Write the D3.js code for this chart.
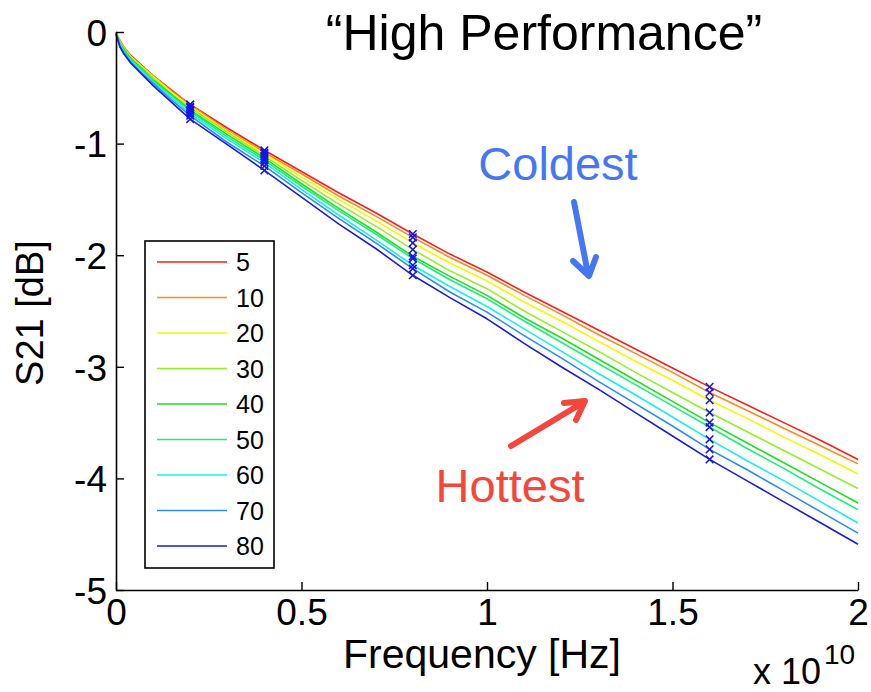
<!DOCTYPE html>
<html>
<head>
<meta charset="utf-8">
<script src="https://cdn.jsdelivr.net/npm/d3@7"></script>
<style>
  html, body { margin: 0; padding: 0; background: #fff; }
  svg { display: block; font-family: "Liberation Sans", Arial, Helvetica, sans-serif; }
</style>
</head>
<body>
<svg id="chart" width="871" height="692"></svg>
<script>
// Frequency samples in GHz (axis reads in units of 1e10 Hz)
const freqGHz = [0, 0.05, 0.1, 0.2, 0.4, 0.7, 1, 1.5, 2, 3, 4, 5, 6, 7, 8, 9, 10, 11, 12, 13, 14, 15, 16, 17, 18, 19, 20];

// Temperatures shown in the legend
const temps = [5, 10, 20, 30, 40, 50, 60, 70, 80];

// Measured S21 [dB] per temperature
const s21_5  = [0, -0.04, -0.07, -0.13, -0.21, -0.30, -0.39, -0.52, -0.65, -0.86, -1.06, -1.25, -1.44, -1.62, -1.81, -1.99, -2.15, -2.33, -2.50, -2.67, -2.84, -3.01, -3.18, -3.34, -3.50, -3.66, -3.83];
const s21_10 = [0, -0.04, -0.08, -0.13, -0.22, -0.31, -0.39, -0.53, -0.65, -0.88, -1.08, -1.27, -1.47, -1.65, -1.84, -2.02, -2.18, -2.36, -2.53, -2.71, -2.88, -3.05, -3.23, -3.39, -3.55, -3.71, -3.87];
const s21_20 = [0, -0.04, -0.08, -0.14, -0.22, -0.31, -0.40, -0.54, -0.67, -0.89, -1.09, -1.30, -1.50, -1.69, -1.89, -2.07, -2.23, -2.42, -2.59, -2.77, -2.95, -3.12, -3.30, -3.46, -3.63, -3.79, -3.96];
const s21_30 = [0, -0.05, -0.09, -0.14, -0.23, -0.32, -0.41, -0.56, -0.68, -0.90, -1.11, -1.33, -1.54, -1.74, -1.95, -2.14, -2.30, -2.50, -2.68, -2.86, -3.05, -3.23, -3.41, -3.58, -3.75, -3.92, -4.09];
const s21_40 = [-0.01, -0.05, -0.10, -0.15, -0.24, -0.33, -0.43, -0.56, -0.70, -0.92, -1.13, -1.36, -1.58, -1.79, -2.01, -2.19, -2.36, -2.56, -2.74, -2.93, -3.12, -3.31, -3.50, -3.68, -3.86, -4.04, -4.22];
const s21_50 = [-0.01, -0.05, -0.10, -0.16, -0.25, -0.34, -0.44, -0.57, -0.71, -0.94, -1.15, -1.38, -1.60, -1.81, -2.03, -2.22, -2.39, -2.59, -2.78, -2.97, -3.16, -3.35, -3.54, -3.73, -3.91, -4.10, -4.28];
const s21_60 = [-0.01, -0.06, -0.11, -0.17, -0.26, -0.35, -0.45, -0.59, -0.73, -0.96, -1.17, -1.41, -1.64, -1.86, -2.09, -2.28, -2.46, -2.66, -2.86, -3.06, -3.25, -3.45, -3.65, -3.84, -4.02, -4.21, -4.40];
const s21_70 = [-0.02, -0.06, -0.12, -0.18, -0.27, -0.37, -0.46, -0.61, -0.75, -0.99, -1.20, -1.44, -1.67, -1.89, -2.12, -2.33, -2.51, -2.72, -2.92, -3.13, -3.33, -3.53, -3.74, -3.92, -4.11, -4.30, -4.49];
const s21_80 = [-0.02, -0.07, -0.13, -0.19, -0.28, -0.38, -0.48, -0.63, -0.78, -1.01, -1.24, -1.48, -1.72, -1.94, -2.18, -2.38, -2.57, -2.79, -3.00, -3.20, -3.41, -3.62, -3.83, -4.02, -4.21, -4.40, -4.59];

const seriesValues = [s21_5, s21_10, s21_20, s21_30, s21_40, s21_50, s21_60, s21_70, s21_80];
const seriesColors = ["#f42121", "#ff8a1c", "#f7f700", "#95ef2a", "#1fe01f", "#1cef7c", "#1aeeee", "#2b8cf6", "#1c1cdc"];

// Frequencies (GHz) flagged with an "x" on every trace
const markerGHz = [2, 4, 8, 16];

// Axis ticks
const xTicks = [0, 5, 10, 15, 20];
const xTickLabels = ["0", "0.5", "1", "1.5", "2"];
const yTicks = [0, -1, -2, -3, -4, -5];

const svg = d3.select("#chart");

const x = d3.scaleLinear().domain([0, 20]).range([116, 858]);
const y = d3.scaleLinear().domain([-5, 0]).range([590, 32]);

// Traces
const line = d3.line()
  .x((d, i) => x(freqGHz[i]))
  .y(d => y(d));

svg.append("g")
  .selectAll("path")
  .data(seriesValues)
  .join("path")
  .attr("d", d => line(d))
  .attr("fill", "none")
  .attr("stroke", (d, i) => seriesColors[i])
  .attr("stroke-width", 1.6)
  .attr("stroke-linejoin", "round");

// "x" markers at the flagged frequencies
const markerPts = [];
seriesValues.forEach(vals => {
  markerGHz.forEach(f => {
    const idx = freqGHz.indexOf(f);
    markerPts.push({ f: f, v: vals[idx] });
  });
});
const ms = 3.8;
svg.append("g")
  .selectAll("path")
  .data(markerPts)
  .join("path")
  .attr("d", d => {
    const cx = x(d.f), cy = y(d.v);
    return `M${cx - ms},${cy - ms}L${cx + ms},${cy + ms}M${cx - ms},${cy + ms}L${cx + ms},${cy - ms}`;
  })
  .attr("stroke", "#1414e6")
  .attr("stroke-width", 1.5)
  .attr("fill", "none");

// Axes (ticks point inward)
const xAxis = d3.axisBottom(x)
  .tickValues(xTicks)
  .tickFormat((d, i) => xTickLabels[i])
  .tickSizeInner(-8)
  .tickSizeOuter(0)
  .tickPadding(9);

const yAxis = d3.axisLeft(y)
  .tickValues(yTicks)
  .tickFormat(d => d === 0 ? "0" : String(d))
  .tickSizeInner(-8)
  .tickSizeOuter(0)
  .tickPadding(9);

const gx = svg.append("g").attr("transform", `translate(0,${y(-5)})`).call(xAxis);
const gy = svg.append("g").attr("transform", `translate(${x(0)},0)`).call(yAxis);

[gx, gy].forEach(g => {
  g.select(".domain").attr("stroke", "#000").attr("stroke-width", 1.6);
  g.selectAll(".tick line").attr("stroke", "#000").attr("stroke-width", 1.4);
  g.selectAll(".tick text")
    .attr("fill", "#000")
    .attr("font-size", 37)
    .attr("font-family", "Liberation Sans, Arial, sans-serif");
});
gy.selectAll(".tick text").attr("dy", "0.36em");

// Axis titles
svg.append("text")
  .attr("x", 482).attr("y", 668)
  .attr("text-anchor", "middle")
  .attr("font-size", 41)
  .text("Frequency [Hz]");

svg.append("text")
  .attr("transform", "translate(43,313) rotate(-90)")
  .attr("text-anchor", "middle")
  .attr("font-size", 38)
  .text("S21 [dB]");

// Axis exponent
const expo = svg.append("text")
  .attr("x", 753).attr("y", 684)
  .attr("font-size", 36);
expo.append("tspan").text("x 10");
expo.append("tspan").attr("dx", 3).attr("dy", -20).attr("font-size", 28).text("10");

// Title
svg.append("text")
  .attr("x", 544).attr("y", 50)
  .attr("text-anchor", "middle")
  .attr("font-size", 50)
  .text("\u201CHigh Performance\u201D");

// Annotations
svg.append("text")
  .attr("x", 558).attr("y", 180)
  .attr("text-anchor", "middle")
  .attr("font-size", 47)
  .attr("fill", "#4677f2")
  .text("Coldest");

svg.append("text")
  .attr("x", 510).attr("y", 502)
  .attr("text-anchor", "middle")
  .attr("font-size", 47)
  .attr("fill", "#f4463b")
  .text("Hottest");

svg.append("path")
  .attr("d", "M574,202L588,274M573,261L589,276L596,257")
  .attr("fill", "none")
  .attr("stroke", "#4677f2")
  .attr("stroke-width", 6)
  .attr("stroke-linecap", "round")
  .attr("stroke-linejoin", "round");

svg.append("path")
  .attr("d", "M511,446L584,402M564,403L585,401L576,420")
  .attr("fill", "none")
  .attr("stroke", "#f4463b")
  .attr("stroke-width", 6)
  .attr("stroke-linecap", "round")
  .attr("stroke-linejoin", "round");

// Legend
const legend = svg.append("g");
legend.append("rect")
  .attr("x", 145).attr("y", 241)
  .attr("width", 129).attr("height", 327)
  .attr("fill", "#fff")
  .attr("stroke", "#000")
  .attr("stroke-width", 1.6);

const rowY = d3.scaleLinear().domain([0, temps.length - 1]).range([262, 546]);
const rows = legend.selectAll("g.row")
  .data(temps)
  .join("g")
  .attr("class", "row")
  .attr("transform", (d, i) => `translate(0,${rowY(i)})`);

rows.append("line")
  .attr("x1", 157).attr("x2", 227)
  .attr("stroke", (d, i) => seriesColors[i])
  .attr("stroke-width", 1.6);

rows.append("text")
  .attr("x", 236).attr("dy", "0.36em")
  .attr("font-size", 25)
  .text(d => d);
</script>
</body>
</html>
